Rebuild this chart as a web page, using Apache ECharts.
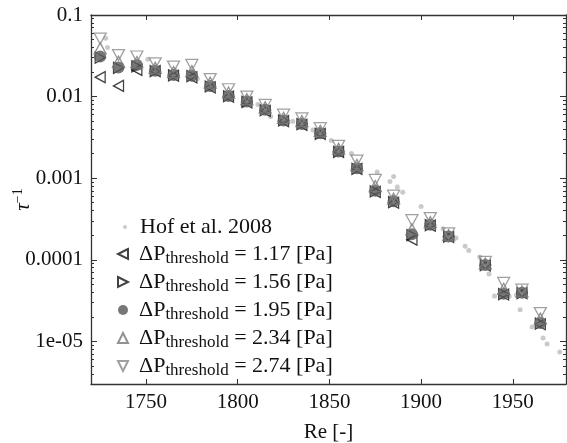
<!DOCTYPE html>
<html>
<head>
<meta charset="utf-8">
<script src="https://cdn.jsdelivr.net/npm/echarts@6.0.0/dist/echarts.min.js"></script>
<style>
html, body { margin: 0; padding: 0; background: #fff; }
#chart { width: 567px; height: 443px; }
</style>
</head>
<body>
<div id="chart"></div>
<script>
// Re values of the measured points
var reExp = [1725, 1735, 1745, 1755, 1765, 1775, 1785, 1795, 1805, 1815, 1825, 1835,
    1845, 1855, 1865, 1875, 1885, 1895, 1905, 1915, 1935, 1945, 1955, 1965];

// tau^-1 for each pressure threshold
var tau117 = [0.0173, 0.0135, 0.0212, 0.0205, 0.0180, 0.0172, 0.0130, 0.0100, 0.0085, 0.0067, 0.0050, 0.0045,
    0.0035, 0.0021, 0.0013, 0.00068, 0.00050, 0.000176, 0.000262, 0.000190, 8.5e-5, 3.75e-5, 3.9e-5, 1.62e-5];
var tau156 = [0.030, 0.0225, 0.0235, 0.0205, 0.0182, 0.0178, 0.0133, 0.0101, 0.0086, 0.0068, 0.0051, 0.0046,
    0.0035, 0.0021, 0.0013, 0.00069, 0.00051, 0.000200, 0.000265, 0.000192, 8.6e-5, 3.8e-5, 3.9e-5, 1.65e-5];
var tau195 = [0.031, 0.0227, 0.0244, 0.0208, 0.0184, 0.0180, 0.0135, 0.0102, 0.0087, 0.0069, 0.0051, 0.0046,
    0.00356, 0.00212, 0.00132, 0.00070, 0.00052, 0.000205, 0.000268, 0.000193, 8.6e-5, 3.84e-5, 3.95e-5, 1.68e-5];
var tau234 = [0.039, 0.0268, 0.0265, 0.0225, 0.0200, 0.0205, 0.0148, 0.0112, 0.0093, 0.0074, 0.0055, 0.0050,
    0.0038, 0.0023, 0.00145, 0.00080, 0.00056, 0.000235, 0.000290, 0.000200, 9.0e-5, 4.4e-5, 4.1e-5, 1.9e-5];
var tau274 = [0.0515, 0.0323, 0.031, 0.0256, 0.0233, 0.0244, 0.0164, 0.0123, 0.0100, 0.0079, 0.0060, 0.0054,
    0.0041, 0.00249, 0.00164, 0.00095, 0.00061, 0.000305, 0.000324, 0.00021, 9.4e-5, 5.2e-5, 4.3e-5, 2.22e-5];

// Hof et al. 2008
var hofRe = [1728, 1729, 1751, 1766, 1778, 1795, 1803, 1811, 1818, 1830, 1841, 1851, 1862, 1876, 1883,
    1885, 1887, 1890, 1900, 1912, 1919, 1924, 1926, 1932, 1937, 1940, 1948, 1952, 1954, 1960.5, 1966.5, 1968.7, 1975.6];
var hofTau = [0.052, 0.040, 0.0287, 0.021, 0.0166, 0.011, 0.0077, 0.0080, 0.0057, 0.0050, 0.0039, 0.0029, 0.0020,
    0.00119, 0.00091, 0.00105, 0.00078, 0.00067, 0.00045, 0.00024, 0.000185, 0.000146, 0.00013, 0.000108,
    6.7e-5, 3.6e-5, 3.56e-5, 3.7e-5, 2.44e-5, 1.5e-5, 1.1e-5, 9.3e-6, 7.4e-6];

var thresholds = ['1.17', '1.56', '1.95', '2.34', '2.74'];
var xTicks = [1750, 1800, 1850, 1900, 1950];
var yTicks = [1e-5, 1e-4, 1e-3, 1e-2, 0.1];
var yTickLabels = ['1e-05', '0.0001', '0.001', '0.01', '0.1'];

var xMin = 1720, xMax = 1979;
var yMin = 3e-6, yMax = 0.1;

// legend icons (triangles pointing left / right / up / down)
var legendIcons = ['path://M10,0L0,5L10,10Z', 'path://M0,0L10,5L0,10Z', 'circle',
    'path://M5,0L10,10L0,10Z', 'path://M0,0L10,0L5,10Z'];

function pairs(xs, ys) {
    return xs.map(function (x, i) { return [x, ys[i]]; });
}

var minorTicks = [];
for (var e = -6; e <= -2; e++) {
    for (var k = 2; k <= 9; k++) {
        var v = Number((k * Math.pow(10, e)).toPrecision(3));
        if (v >= yMin * 0.999 && v <= yMax) minorTicks.push(v);
    }
}

var serif = 'Liberation Serif';
var axisCol = '#333';

function yAx(pos, ticks, len, line, labels) {
    return {
        type: 'log', logBase: 10, min: yMin, max: yMax, position: pos,
        axisLine: { show: line, lineStyle: { color: axisCol, width: 1.3 } },
        axisTick: { show: true, inside: true, length: len, customValues: ticks, lineStyle: { color: axisCol, width: 1 } },
        axisLabel: labels ? {
            show: true, customValues: yTicks, margin: 8,
            color: '#111', fontFamily: serif, fontSize: 21,
            formatter: function (val) {
                for (var i = 0; i < yTicks.length; i++) {
                    if (Math.abs(Math.log10(yTicks[i]) - Math.log10(val)) < 1e-6) return yTickLabels[i];
                }
                return '';
            }
        } : { show: false },
        splitLine: { show: false }
    };
}

var rich = {
    h: { fontFamily: serif, fontSize: 22, color: '#111', lineHeight: 26, padding: [0, 0, 0, 8] },
    d: { fontFamily: serif, fontSize: 22, color: '#111', lineHeight: 26, padding: [0, 0, 0, 6] },
    a: { fontFamily: serif, fontSize: 22, color: '#111', lineHeight: 26 },
    s: { fontFamily: serif, fontSize: 17, color: '#111', lineHeight: 17, verticalAlign: 'bottom' }
};

var yAxes = [yAx('left', yTicks, 6, true, true), yAx('left', minorTicks, 3, false, false),
    yAx('right', yTicks, 6, true, false), yAx('right', minorTicks, 3, false, false)];
yAxes[0].name = '{i|τ}{p|−1}';
yAxes[0].nameLocation = 'middle';
yAxes[0].nameGap = 56;
yAxes[0].nameMoveOverlap = false;
yAxes[0].nameTextStyle = {
    rich: {
        i: { fontFamily: serif, fontStyle: 'italic', fontSize: 21, color: '#111', lineHeight: 24 },
        p: { fontFamily: serif, fontSize: 14, color: '#111', lineHeight: 14, verticalAlign: 'top' }
    }
};

var option = {
    animation: false,
    backgroundColor: '#fff',
    grid: { left: 91, right: 1, top: 15, bottom: 59, outerBoundsMode: 'none', containLabel: false },
    xAxis: [{
        type: 'value', min: xMin, max: xMax, position: 'bottom',
        name: 'Re [-]', nameLocation: 'middle', nameGap: 38, nameMoveOverlap: false,
        nameTextStyle: { fontFamily: serif, fontSize: 21, color: '#111' },
        axisLine: { lineStyle: { color: axisCol, width: 1.3 } },
        axisTick: { inside: true, length: 5, customValues: xTicks, lineStyle: { color: axisCol } },
        axisLabel: {
            customValues: xTicks, margin: 8, color: '#111', fontFamily: serif, fontSize: 21,
            formatter: function (val) { return String(val); }
        },
        splitLine: { show: false }
    }, {
        type: 'value', min: xMin, max: xMax, position: 'top',
        axisLine: { lineStyle: { color: axisCol, width: 1.3 } },
        axisTick: { inside: true, length: 5, customValues: xTicks, lineStyle: { color: axisCol } },
        axisLabel: { show: false },
        splitLine: { show: false }
    }],
    yAxis: yAxes,
    legend: [{
        data: ['Hof et al. 2008'],
        orient: 'vertical', left: 118, top: 211,
        itemWidth: 4, itemHeight: 4,
        textStyle: { rich: rich },
        formatter: function (name) { return '{h|' + name + '}'; }
    }, {
        data: thresholds.map(function (t, i) { return { name: t, icon: legendIcons[i] }; }),
        orient: 'vertical', left: 112, top: 238,
        itemWidth: 10, itemHeight: 10, itemGap: 4,
        textStyle: { rich: rich },
        formatter: function (name) { return '{d|ΔP}{s|threshold}{a| = ' + name + ' [Pa]}'; }
    }],
    series: [{
        name: 'Hof et al. 2008', type: 'scatter', symbol: 'circle', symbolSize: 5,
        itemStyle: { color: '#bdbdbd' },
        data: pairs(hofRe, hofTau), z: 1
    }, {
        name: '1.17', type: 'scatter', symbol: 'triangle', symbolRotate: 90, symbolSize: [11, 10],
        itemStyle: { color: 'rgba(0,0,0,0)', borderColor: '#111', borderWidth: 1.3 },
        data: pairs(reExp, tau117), z: 2
    }, {
        name: '1.56', type: 'scatter', symbol: 'triangle', symbolRotate: -90, symbolSize: [11, 10],
        itemStyle: { color: 'rgba(0,0,0,0)', borderColor: '#111', borderWidth: 1.3 },
        data: pairs(reExp, tau156), z: 3
    }, {
        name: '1.95', type: 'scatter', symbol: 'circle', symbolSize: 12,
        itemStyle: { color: '#555' },
        data: pairs(reExp, tau195), z: 4
    }, {
        name: '2.34', type: 'scatter', symbol: 'triangle', symbolSize: [12, 11],
        itemStyle: { color: 'rgba(0,0,0,0)', borderColor: '#777', borderWidth: 1.3 },
        data: pairs(reExp, tau234), z: 5
    }, {
        name: '2.74', type: 'scatter', symbol: 'triangle', symbolRotate: 180, symbolSize: [12, 11],
        itemStyle: { color: 'rgba(0,0,0,0)', borderColor: '#888', borderWidth: 1.3 },
        data: pairs(reExp, tau274), z: 6
    }]
};

var chart = echarts.init(document.getElementById('chart'));
chart.setOption(option);
</script>
</body>
</html>
